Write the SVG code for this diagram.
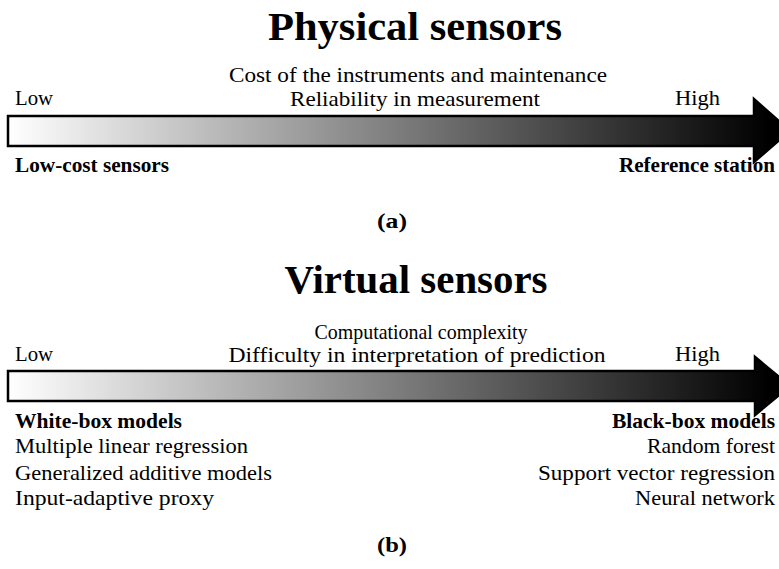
<svg xmlns="http://www.w3.org/2000/svg" width="779" height="569" viewBox="0 0 779 569">
<style>
text{font-family:"Liberation Serif","Times New Roman",serif;fill:#000;}
.t{font-size:41px;font-weight:bold;}
.n{font-size:21px;}
.b{font-size:21px;font-weight:bold;}
.m{text-anchor:middle;}
.e{text-anchor:end;}
.arrow{stroke:#000;stroke-width:2.5;stroke-linejoin:miter;fill:url(#g);}
</style>
<defs>
<linearGradient id="g" gradientUnits="userSpaceOnUse" x1="8" y1="0" x2="770" y2="0">
<stop offset="0" stop-color="#ffffff"/>
<stop offset="1" stop-color="#000000"/>
</linearGradient>
</defs>
<rect width="779" height="569" fill="#fff"/>
<g id="physical">
<text class="t m" x="415" y="40" textLength="294" lengthAdjust="spacingAndGlyphs">Physical sensors</text>
<text class="n m" x="418" y="82" textLength="378" lengthAdjust="spacingAndGlyphs">Cost of the instruments and maintenance</text>
<text class="n m" x="415" y="106" textLength="250" lengthAdjust="spacingAndGlyphs">Reliability in measurement</text>
<text class="n" x="15" y="105" textLength="38" lengthAdjust="spacingAndGlyphs">Low</text>
<text class="n" x="675" y="105" textLength="45" lengthAdjust="spacingAndGlyphs">High</text>
<path class="arrow" d="M8,116 L754,116 L754,99 L790,131 L754,162 L754,146 L8,146 Z"/>
<text class="b" x="15" y="172" textLength="154" lengthAdjust="spacingAndGlyphs">Low-cost sensors</text>
<text class="b e" x="775" y="172" textLength="156" lengthAdjust="spacingAndGlyphs">Reference station</text>
<text class="b m" x="392" y="228" textLength="30" lengthAdjust="spacingAndGlyphs">(a)</text>
</g>
<g id="virtual">
<text class="t m" x="416" y="293" textLength="263" lengthAdjust="spacingAndGlyphs">Virtual sensors</text>
<text class="n m" x="421" y="339" textLength="213" lengthAdjust="spacingAndGlyphs">Computational complexity</text>
<text class="n m" x="417" y="362" textLength="377" lengthAdjust="spacingAndGlyphs">Difficulty in interpretation of prediction</text>
<text class="n" x="15" y="361" textLength="38" lengthAdjust="spacingAndGlyphs">Low</text>
<text class="n" x="675" y="361" textLength="45" lengthAdjust="spacingAndGlyphs">High</text>
<path class="arrow" d="M8,371 L755,371 L755,357 L790,386 L755,415 L755,401 L8,401 Z"/>
<text class="b" x="15" y="428" textLength="167" lengthAdjust="spacingAndGlyphs">White-box models</text>
<text class="n" x="15" y="453" textLength="233" lengthAdjust="spacingAndGlyphs">Multiple linear regression</text>
<text class="n" x="15" y="480" textLength="257" lengthAdjust="spacingAndGlyphs">Generalized additive models</text>
<text class="n" x="15" y="505" textLength="199" lengthAdjust="spacingAndGlyphs">Input-adaptive proxy</text>
<text class="b e" x="775" y="428" textLength="163" lengthAdjust="spacingAndGlyphs">Black-box models</text>
<text class="n e" x="775" y="453" textLength="128" lengthAdjust="spacingAndGlyphs">Random forest</text>
<text class="n e" x="775" y="480" textLength="237" lengthAdjust="spacingAndGlyphs">Support vector regression</text>
<text class="n e" x="775" y="505" textLength="140" lengthAdjust="spacingAndGlyphs">Neural network</text>
<text class="b m" x="392" y="552" textLength="30" lengthAdjust="spacingAndGlyphs">(b)</text>
</g>
</svg>
